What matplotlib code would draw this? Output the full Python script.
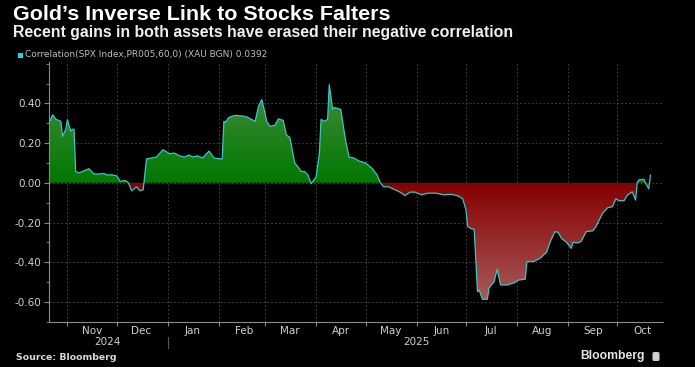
import numpy as np
import pandas as pd
import matplotlib
matplotlib.use("Agg")
import matplotlib.pyplot as plt
import matplotlib.dates as mdates
import matplotlib.transforms as mtransforms
from matplotlib.patches import Rectangle, FancyBboxPatch

# ---------------- data ----------------
dates = [
    "2024-10-21", "2024-10-23", "2024-10-25", "2024-10-28", "2024-10-29", "2024-10-31",
    "2024-11-01", "2024-11-03", "2024-11-04", "2024-11-05", "2024-11-06", "2024-11-08",
    "2024-11-10", "2024-11-14", "2024-11-17", "2024-11-20", "2024-11-23", "2024-11-25",
    "2024-11-28", "2024-12-01", "2024-12-03", "2024-12-06", "2024-12-08", "2024-12-10",
    "2024-12-13", "2024-12-15", "2024-12-17", "2024-12-19", "2024-12-22", "2024-12-25",
    "2024-12-29", "2025-01-02", "2025-01-05", "2025-01-08", "2025-01-11", "2025-01-14",
    "2025-01-16", "2025-01-19", "2025-01-22", "2025-01-26", "2025-01-29", "2025-02-02",
    "2025-02-03", "2025-02-04", "2025-02-05", "2025-02-07", "2025-02-11", "2025-02-15",
    "2025-02-18", "2025-02-23", "2025-02-25", "2025-02-27", "2025-03-01", "2025-03-02",
    "2025-03-04", "2025-03-07", "2025-03-09", "2025-03-12", "2025-03-14", "2025-03-16",
    "2025-03-19", "2025-03-21", "2025-03-23", "2025-03-25", "2025-03-27", "2025-03-29",
    "2025-04-01", "2025-04-03", "2025-04-04", "2025-04-06", "2025-04-08", "2025-04-09",
    "2025-04-11", "2025-04-12", "2025-04-14", "2025-04-16", "2025-04-18", "2025-04-19",
    "2025-04-21", "2025-04-24", "2025-04-27", "2025-05-01", "2025-05-05", "2025-05-08",
    "2025-05-10", "2025-05-12", "2025-05-15", "2025-05-19", "2025-05-22", "2025-05-25",
    "2025-05-28", "2025-05-31", "2025-06-04", "2025-06-08", "2025-06-13", "2025-06-17",
    "2025-06-22", "2025-06-26", "2025-06-29", "2025-07-01", "2025-07-02", "2025-07-04",
    "2025-07-06", "2025-07-08", "2025-07-09", "2025-07-11", "2025-07-14", "2025-07-15",
    "2025-07-18", "2025-07-20", "2025-07-22", "2025-07-26", "2025-07-30", "2025-08-02",
    "2025-08-06", "2025-08-07", "2025-08-11", "2025-08-15", "2025-08-19", "2025-08-21",
    "2025-08-24", "2025-08-26", "2025-08-28", "2025-08-31", "2025-09-03", "2025-09-04",
    "2025-09-07", "2025-09-09", "2025-09-12", "2025-09-16", "2025-09-18", "2025-09-22",
    "2025-09-25", "2025-09-28", "2025-09-30", "2025-10-02", "2025-10-05", "2025-10-07",
    "2025-10-10", "2025-10-12", "2025-10-13", "2025-10-14", "2025-10-17", "2025-10-18",
    "2025-10-20", "2025-10-21",
]
correlation = [
    0.305, 0.343, 0.32, 0.31, 0.234, 0.27,
    0.318, 0.26, 0.27, 0.27, 0.057, 0.05,
    0.057, 0.071, 0.045, 0.044, 0.047, 0.04,
    0.04, 0.035, 0.007, 0.012, 0.0, -0.04,
    -0.02, -0.04, -0.035, 0.12, 0.125, 0.13,
    0.167, 0.147, 0.15, 0.136, 0.13, 0.14,
    0.13, 0.136, 0.125, 0.16, 0.125, 0.12,
    0.12, 0.31, 0.305, 0.33, 0.34, 0.337,
    0.332, 0.31, 0.385, 0.42, 0.35, 0.31,
    0.285, 0.29, 0.322, 0.315, 0.24, 0.23,
    0.10, 0.08, 0.057, 0.057, 0.04, -0.005,
    0.03, 0.15, 0.32, 0.31, 0.32, 0.495,
    0.37, 0.38, 0.375, 0.37, 0.26, 0.21,
    0.13, 0.125, 0.11, 0.10, 0.073, 0.04,
    0.0, -0.02, -0.02, -0.035, -0.047, -0.064,
    -0.047, -0.047, -0.06, -0.052, -0.052, -0.06,
    -0.058, -0.065, -0.08, -0.136, -0.22, -0.23,
    -0.235, -0.549, -0.54, -0.587, -0.587, -0.53,
    -0.50, -0.436, -0.515, -0.515, -0.505, -0.49,
    -0.486, -0.397, -0.397, -0.38, -0.35, -0.30,
    -0.246, -0.25, -0.28, -0.30, -0.33, -0.30,
    -0.303, -0.295, -0.246, -0.242, -0.22, -0.153,
    -0.126, -0.12, -0.081, -0.09, -0.09, -0.062,
    -0.045, -0.087, 0.0, 0.015, 0.018, 0.0,
    -0.03, 0.0392,
]
y_ticks = [-0.6, -0.4, -0.2, 0.0, 0.2, 0.4]
year_labels = ["2024", "2025"]

title = "Gold\u2019s Inverse Link to Stocks Falters"
subtitle = "Recent gains in both assets have erased their negative correlation"
legend_label = "Correlation(SPX Index,PR005,60,0) (XAU BGN) 0.0392"

# ---------------- figure ----------------
W, H = 695, 367
fig = plt.figure(figsize=(W / 100, H / 100), dpi=100, facecolor="black")

def fx(px):
    return px / W

def fy(py):
    return 1 - py / H

ax_l, ax_r, ax_t, ax_b = 48.5, 663.3, 61.8, 321.7
ax = fig.add_axes([fx(ax_l), fy(ax_b), fx(ax_r - ax_l), (ax_b - ax_t) / H])
ax.set_facecolor("black")

x = pd.to_datetime(dates)
y = np.array(correlation)

ymin, ymax = -0.70, 0.61
xmin, xmax = pd.Timestamp("2024-10-20 12:00"), pd.Timestamp("2025-10-28 20:00")
ax.set_xlim(xmin, xmax)
ax.set_ylim(ymin, ymax)

# gradient fill clipped to the area between curve and zero
poly = ax.fill_between(x, y, 0, facecolor="none", edgecolor="none", zorder=1)
yy = np.linspace(ymin, ymax, 600)
img = np.zeros((len(yy), 1, 3))
g0, g1 = np.array([0.0, 0.47, 0.0]), np.array([0.27, 0.55, 0.24])
r0, r1 = np.array([0.52, 0.0, 0.0]), np.array([0.66, 0.36, 0.36])
for i, v in enumerate(yy):
    if v >= 0:
        t = min(v / 0.5, 1.0)
        img[i, 0] = g0 + (g1 - g0) * t
    else:
        t = min(-v / 0.6, 1.0)
        img[i, 0] = r0 + (r1 - r0) * t
im = ax.imshow(img, origin="lower", aspect="auto",
               extent=[mdates.date2num(xmin), mdates.date2num(xmax), ymin, ymax],
               zorder=1.5, interpolation="bilinear")
im.set_clip_path(poly.get_paths()[0], transform=ax.transData)

ax.plot(x, y, color="#38c8c8", lw=0.9, zorder=3)

# axes styling
for s in ["top", "right"]:
    ax.spines[s].set_visible(False)
for s in ["left", "bottom"]:
    ax.spines[s].set_color("#8a8a8a")
    ax.spines[s].set_linewidth(0.8)

ax.set_yticks(y_ticks)
ax.set_yticklabels([f"{v:.2f}" for v in y_ticks])
ax.set_yticks(np.arange(-0.7, 0.61, 0.1), minor=True)
ax.tick_params(axis="y", which="major", colors="#8a8a8a", labelcolor="#d0d0d0",
               labelsize=7.5, length=3.5, width=0.8, pad=1.5)
ax.tick_params(axis="y", which="minor", colors="#8a8a8a", length=2, width=0.6)

ax.xaxis.set_major_locator(mdates.MonthLocator())
ax.xaxis.set_major_formatter(plt.NullFormatter())
ax.xaxis.set_minor_locator(mdates.MonthLocator(bymonthday=16))
ax.xaxis.set_minor_formatter(mdates.DateFormatter("%b"))
ax.tick_params(axis="x", which="major", colors="#8a8a8a", length=3, width=0.8)
ax.tick_params(axis="x", which="minor", length=0, labelcolor="#d0d0d0",
               labelsize=7.5, pad=3)

ax.grid(axis="y", which="major", color="#3c3c3c", ls=(0, (2, 2)), lw=0.7, zorder=0)
ax.grid(axis="x", which="major", color="#3c3c3c", ls=(0, (2, 2)), lw=0.7, zorder=0)
ax.set_axisbelow(True)

# year labels and separator
trans = mtransforms.blended_transform_factory(ax.transData, ax.transAxes)
ay = lambda py: (ax_b - py) / (ax_b - ax_t)
ax.text(pd.Timestamp("2024-11-25"), ay(342), year_labels[0], transform=trans,
        ha="center", va="center", color="#d0d0d0", fontsize=7.5)
ax.text(pd.Timestamp("2025-06-01"), ay(342), year_labels[1], transform=trans,
        ha="center", va="center", color="#d0d0d0", fontsize=7.5)
ax.plot([pd.Timestamp("2025-01-01")] * 2, [ay(337), ay(348)], transform=trans,
        color="#555555", lw=0.8, clip_on=False)

# titles and legend
t1 = fig.text(fx(13), fy(15), title, color="white", fontsize=14,
              fontweight="bold", family="Liberation Sans", va="center", ha="left")
t2 = fig.text(fx(13), fy(33), subtitle, color="#f0f0f0", fontsize=10,
              fontweight="bold", family="Liberation Sans", va="center", ha="left")
fig.patches.append(Rectangle((fx(18), fy(57.5)), fx(4.5), 4.5 / H,
                             transform=fig.transFigure, facecolor="#19d9e6",
                             edgecolor="none"))
t3 = fig.text(fx(25), fy(55), legend_label, color="#bdbdbd", fontsize=6,
              va="center", ha="left")
t4 = fig.text(fx(16), fy(357.5), "Source: Bloomberg", color="#d8d8d8", fontsize=7,
              fontweight="bold", va="center", ha="left")
t5 = fig.text(fx(645), fy(356), "Bloomberg", color="#e6e6e6", fontsize=9,
              fontweight="bold", family="Liberation Sans", va="center", ha="right")
fig.patches.append(FancyBboxPatch((fx(652.5), fy(361)), fx(7), 9 / H,
                                  boxstyle="round,pad=0,rounding_size=0.003",
                                  transform=fig.transFigure, facecolor="#cfcfcf",
                                  edgecolor="none"))

fig.canvas.draw()
renderer = fig.canvas.get_renderer()
for t, target in [(t1, 377), (t2, 503), (t3, 242), (t4, 101), (t5, 64)]:
    w = t.get_window_extent(renderer).width
    t.set_fontsize(t.get_fontsize() * target / w)

fig.savefig("out.png", dpi=100, facecolor="black")
